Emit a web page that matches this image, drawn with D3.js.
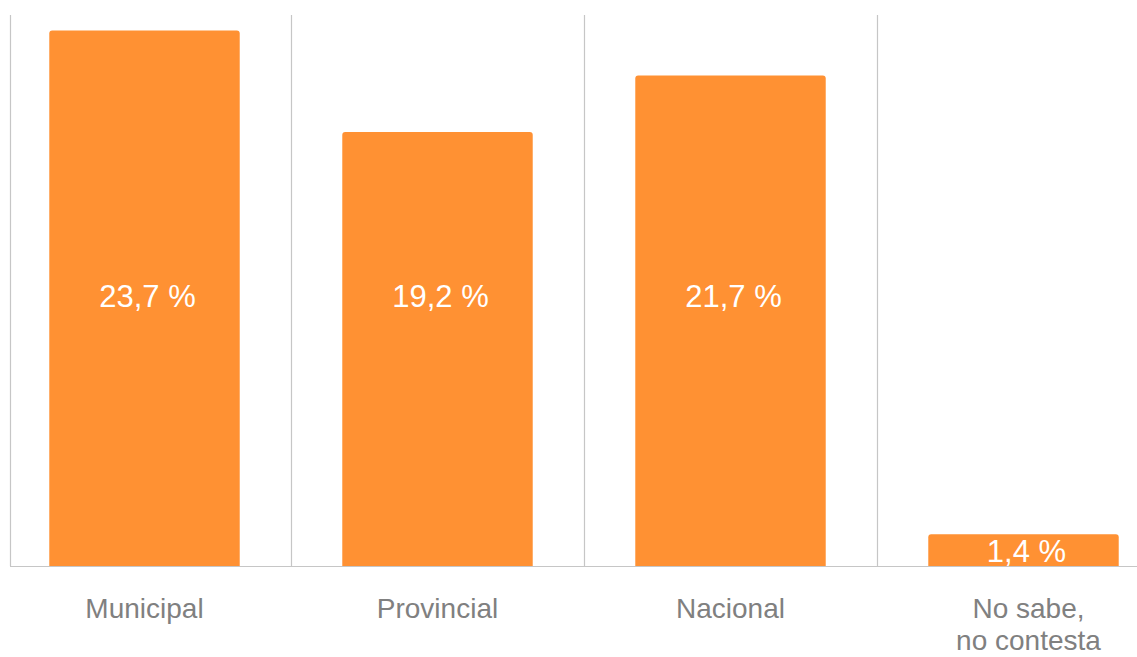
<!DOCTYPE html>
<html>
<head>
<meta charset="utf-8">
<script src="https://cdn.jsdelivr.net/npm/d3@7"></script>
<style>
  html, body { margin: 0; padding: 0; background: #ffffff; }
  svg { display: block; }
  text { font-family: "Liberation Sans", Arimo, Arial, Helvetica, sans-serif; }
</style>
</head>
<body>
<svg id="chart" width="1137" height="657"></svg>
<script>
const categories = ["Municipal", "Provincial", "Nacional", "No sabe,\nno contesta"];
const values = [23.7, 19.2, 21.7, 1.4];
const valueLabels = ["23,7 %", "19,2 %", "21,7 %", "1,4 %"];

const W = 1137, H = 657;
const baseY = 566, topY = 15;
const svg = d3.select("#chart");

const x = d3.scaleBand()
  .domain(categories)
  .range([-2, 1170])
  .paddingInner(0.35)
  .paddingOuter(0.175);

const y = d3.scaleLinear().domain([0, 25]).range([baseY, 1]);

const step = x.step();
const gridColor = "#c6c6c6";
const barColor = "#ff9133";
const textGray = "#808080";

// left axis line
svg.append("line")
  .attr("x1", 10.5).attr("x2", 10.5)
  .attr("y1", topY).attr("y2", baseY)
  .attr("stroke", gridColor).attr("stroke-width", 1.2);

// category separators
categories.slice(1).forEach(c => {
  const bx = Math.round(x(c) - step * x.paddingInner() / 2) + 0.5;
  svg.append("line")
    .attr("x1", bx).attr("x2", bx)
    .attr("y1", topY).attr("y2", baseY)
    .attr("stroke", gridColor).attr("stroke-width", 1.2);
});

// bars with rounded top corners
const r = 3;
function barPath(x0, w, yTop, yBot) {
  return `M${x0},${yBot} L${x0},${yTop + r} Q${x0},${yTop} ${x0 + r},${yTop} ` +
         `L${x0 + w - r},${yTop} Q${x0 + w},${yTop} ${x0 + w},${yTop + r} L${x0 + w},${yBot} Z`;
}
svg.append("g").selectAll("path")
  .data(values)
  .join("path")
  .attr("d", (d, i) => barPath(x(categories[i]), x.bandwidth(), y(d), y(0)))
  .attr("fill", barColor);

// baseline
svg.append("line")
  .attr("x1", 10).attr("x2", W)
  .attr("y1", baseY + 0.5).attr("y2", baseY + 0.5)
  .attr("stroke", gridColor).attr("stroke-width", 1.2);

// value labels
const midY = (topY + baseY) / 2;
svg.append("g").selectAll("text")
  .data(values)
  .join("text")
  .attr("x", (d, i) => x(categories[i]) + x.bandwidth() / 2 + 3)
  .attr("y", d => (y(0) - y(d)) > 100 ? midY + 16 : baseY - 4)
  .attr("text-anchor", "middle")
  .attr("font-size", 31)
  .attr("fill", "#ffffff")
  .text((d, i) => valueLabels[i]);

// category labels
const catG = svg.append("g");
categories.forEach(c => {
  const lines = c.split("\n");
  const cx = x(c) + x.bandwidth() / 2 + (lines.length > 1 ? 5 : 0);
  const t = catG.append("text")
    .attr("x", cx)
    .attr("y", 618)
    .attr("text-anchor", "middle")
    .attr("font-size", 28)
    .attr("fill", textGray);
  lines.forEach((ln, k) => {
    t.append("tspan")
      .attr("x", cx)
      .attr("dy", k === 0 ? 0 : 32)
      .text(ln);
  });
});
</script>
</body>
</html>
